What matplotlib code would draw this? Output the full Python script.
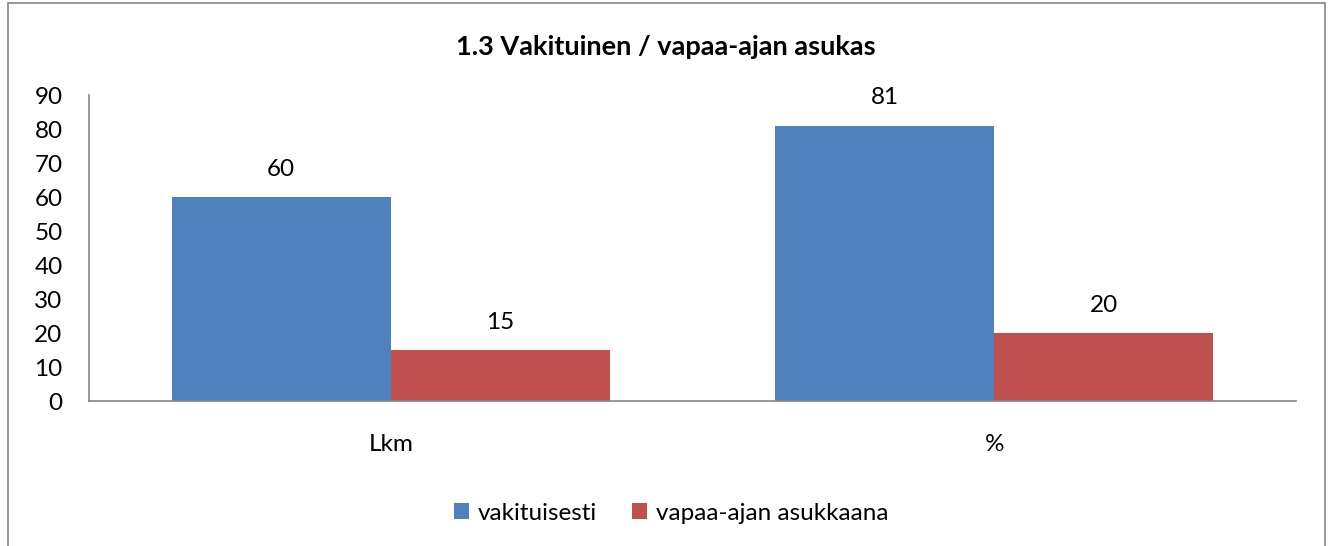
import matplotlib
matplotlib.use("Agg")
import matplotlib.pyplot as plt
import numpy as np
from matplotlib.patches import Rectangle

categories = ["Lkm", "%"]
series_names = ["vakituisesti", "vapaa-ajan asukkaana"]
vakituisesti = [60, 81]
vapaa_ajan = [15, 20]
yticks = list(range(0, 100, 10))
title = "1.3 Vakituinen / vapaa-ajan asukas"

plt.rcParams['font.family'] = ['Lato', 'DejaVu Sans']
FS = 17.5

fig = plt.figure(figsize=(13.31, 5.46), dpi=100)
ax = fig.add_axes([89/1331, 1-401/546, (1296-89)/1331, (401-95)/546])

x = np.arange(len(categories))
w = 0.363
colors = ["#4F81BD", "#C0504D"]
b1 = ax.bar(x - w/2, vakituisesti, w, color=colors[0], label=series_names[0])
b2 = ax.bar(x + w/2, vapaa_ajan, w, color=colors[1], label=series_names[1])
for bars, vals in ((b1, vakituisesti), (b2, vapaa_ajan)):
    for r, v in zip(bars, vals):
        ax.annotate(str(v), (r.get_x() + r.get_width()/2, v), xytext=(0, 20),
                    textcoords="offset points", ha="center", va="center", fontsize=FS)

ax.set_xlim(-0.5, 1.5)
ax.set_ylim(0, 90)
ax.set_yticks(yticks)
ax.set_xticks(x)
ax.set_xticklabels(categories)
ax.tick_params(axis='both', length=0, labelsize=FS)
ax.tick_params(axis='y', pad=19)
ax.tick_params(axis='x', pad=24)
for s in ["top", "right"]:
    ax.spines[s].set_visible(False)
for s in ["left", "bottom"]:
    ax.spines[s].set_color("#868686")
    ax.spines[s].set_linewidth(1.2)

fig.text(0.5, 1-47/546, title, ha="center", va="center", fontsize=19.5, fontweight="bold")
leg = fig.legend(loc="center", bbox_to_anchor=(671/1331, 1-513/546), ncol=2, frameon=False,
                 fontsize=FS, handlelength=0.6, handleheight=0.6, handletextpad=0.37,
                 columnspacing=1.45)

fig.patches.append(Rectangle((8/1331, -0.05), (1325-8)/1331, 1.05 - 3/546,
                             transform=fig.transFigure, fill=False, edgecolor="#868686", linewidth=1.2))
fig.savefig("out.png", dpi=100)
